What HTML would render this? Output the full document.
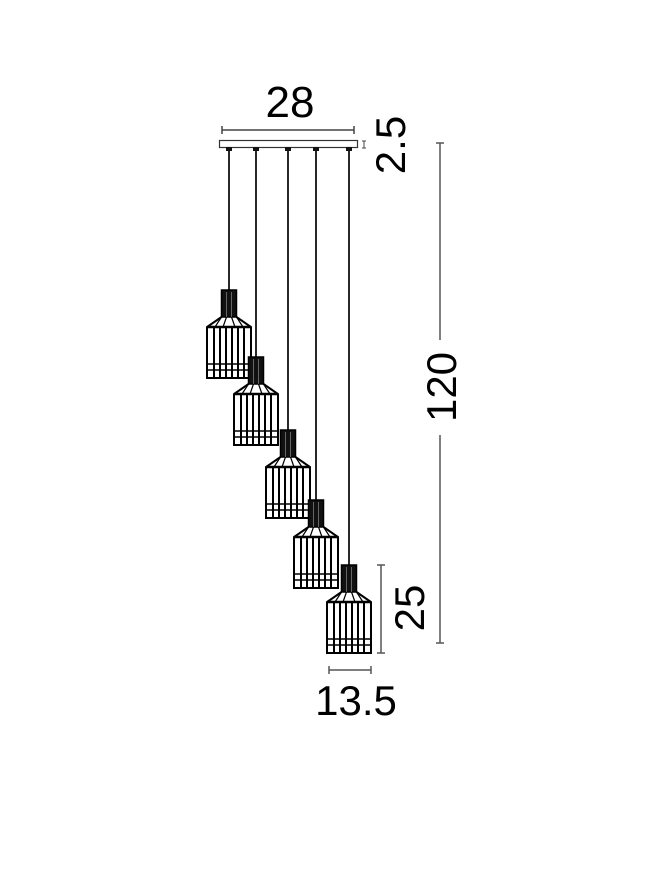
<!DOCTYPE html>
<html><head><meta charset="utf-8"><style>
html,body{margin:0;padding:0;background:#fff;}
svg{display:block;}
text{font-family:"Liberation Sans",Arial,sans-serif;fill:#000;}
</style></head><body>
<svg width="667" height="879" viewBox="0 0 667 879" xmlns="http://www.w3.org/2000/svg">
<defs>
<g id="lamp" stroke="#000" fill="none">
  <rect x="-7.5" y="0" width="15" height="27" fill="#111" stroke-width="1.5"/>
  <line x1="-2.5" y1="2" x2="-2.5" y2="27" stroke="#666" stroke-width="1"/>
  <line x1="2.5" y1="2" x2="2.5" y2="27" stroke="#666" stroke-width="1"/>
  <path d="M-7.5 27 L-22 37 L-22 88 L22 88 L22 37 L7.5 27" stroke-width="2"/>
  <path d="M-7.5 27 L-14 37 M-2.5 27 L-6 37 M2.5 27 L6 37 M7.5 27 L14 37" stroke-width="1.2"/>
  <line x1="-22" y1="37" x2="22" y2="37" stroke-width="2.5"/>
  <line x1="-22" y1="74" x2="22" y2="74" stroke-width="1.5"/>
  <line x1="-22" y1="80" x2="22" y2="80" stroke-width="1.5"/>
  <g stroke-width="2">
    <line x1="-15" y1="37" x2="-15" y2="88"/>
    <line x1="-9" y1="37" x2="-9" y2="88"/>
    <line x1="-3" y1="37" x2="-3" y2="88"/>
    <line x1="3" y1="37" x2="3" y2="88"/>
    <line x1="9" y1="37" x2="9" y2="88"/>
    <line x1="15" y1="37" x2="15" y2="88"/>
  </g>
</g>
</defs>

<!-- 28 dimension -->
<text x="290" y="117" font-size="44" text-anchor="middle">28</text>
<g stroke="#444" stroke-width="1.5">
  <line x1="222" y1="130" x2="354" y2="130"/>
  <line x1="222" y1="126" x2="222" y2="134"/>
  <line x1="354" y1="126" x2="354" y2="134"/>
</g>
<!-- canopy -->
<rect x="219.5" y="140.5" width="138" height="7" fill="#fff" stroke="#333" stroke-width="1.2"/>
<!-- 2.5 -->
<g stroke="#444" stroke-width="1">
  <line x1="364" y1="141" x2="364" y2="148"/>
  <line x1="362" y1="141" x2="366" y2="141"/>
  <line x1="362" y1="148" x2="366" y2="148"/>
</g>
<text transform="translate(405,145) rotate(-90)" font-size="42" text-anchor="middle">2.5</text>

<!-- cords -->
<g stroke="#111" stroke-width="1.8">
  <line x1="229" y1="148" x2="229" y2="290"/>
  <line x1="256" y1="148" x2="256" y2="357"/>
  <line x1="288" y1="148" x2="288" y2="430"/>
  <line x1="316" y1="148" x2="316" y2="500"/>
  <line x1="349" y1="148" x2="349" y2="565"/>
</g>
<g fill="#111">
  <rect x="226" y="147" width="6" height="4"/>
  <rect x="253" y="147" width="6" height="4"/>
  <rect x="285" y="147" width="6" height="4"/>
  <rect x="313" y="147" width="6" height="4"/>
  <rect x="346" y="147" width="6" height="4"/>
</g>

<use href="#lamp" transform="translate(229,290)"/>
<use href="#lamp" transform="translate(256,357)"/>
<use href="#lamp" transform="translate(288,430)"/>
<use href="#lamp" transform="translate(316,500)"/>
<use href="#lamp" transform="translate(349,565)"/>

<!-- 120 -->
<g stroke="#555" stroke-width="1.5">
  <line x1="440" y1="143" x2="440" y2="340"/>
  <line x1="440" y1="435" x2="440" y2="643"/>
  <line x1="436" y1="143" x2="444" y2="143"/>
  <line x1="436" y1="643" x2="444" y2="643"/>
</g>
<text transform="translate(456,387) rotate(-90)" font-size="42" text-anchor="middle">120</text>

<!-- 25 -->
<g stroke="#555" stroke-width="1.5">
  <line x1="381" y1="565" x2="381" y2="653"/>
  <line x1="377" y1="565" x2="385" y2="565"/>
  <line x1="377" y1="653" x2="385" y2="653"/>
</g>
<text transform="translate(424,608) rotate(-90)" font-size="42" text-anchor="middle">25</text>

<!-- 13.5 -->
<g stroke="#555" stroke-width="1.5">
  <line x1="329" y1="670" x2="371" y2="670"/>
  <line x1="329" y1="666" x2="329" y2="674"/>
  <line x1="371" y1="666" x2="371" y2="674"/>
</g>
<text x="356" y="715" font-size="42" text-anchor="middle">13.5</text>
</svg>
</body></html>
